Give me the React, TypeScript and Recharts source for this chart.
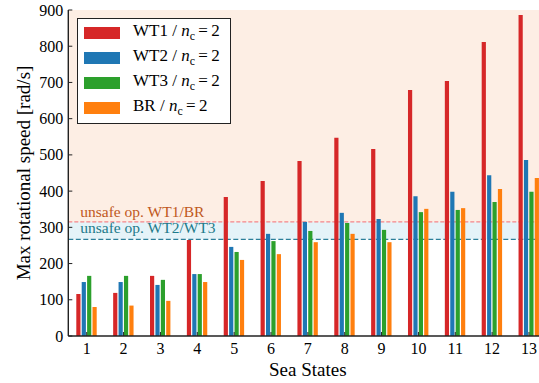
import React from 'react';
import {
  BarChart,
  Bar,
  XAxis,
  YAxis,
  Legend,
  ReferenceArea,
  ReferenceLine,
  Label,
} from 'recharts';

const seaStates = ['1', '2', '3', '4', '5', '6', '7', '8', '9', '10', '11', '12', '13'];
const wt1 = [116, 119, 166, 265, 384, 428, 483, 547, 516, 679, 704, 812, 886];
const wt2 = [149, 149, 141, 171, 246, 282, 315, 340, 323, 386, 398, 444, 486];
const wt3 = [166, 166, 155, 171, 232, 262, 290, 312, 293, 342, 348, 370, 398];
const br = [80, 84, 97, 149, 210, 226, 259, 282, 259, 351, 353, 406, 436];
const yTicks = [0, 100, 200, 300, 400, 500, 600, 700, 800, 900];
const limitWt1Br = 315;
const limitWt2Wt3 = 267;

const series = [
  { key: 'wt1', name: 'WT1', color: '#d62728' },
  { key: 'wt2', name: 'WT2', color: '#1f77b4' },
  { key: 'wt3', name: 'WT3', color: '#2ca02c' },
  { key: 'br', name: 'BR', color: '#ff7f0e' },
];

const data = seaStates.map((s, i) => ({ ss: s, wt1: wt1[i], wt2: wt2[i], wt3: wt3[i], br: br[i] }));

const FONT = '"Liberation Serif", "DejaVu Serif", serif';
const INK = '#222';

const BottomTick = (props: any) => {
  const { x, y, payload } = props;
  return (
    <g>
      <line x1={x} x2={x} y1={y} y2={y - 4} stroke={INK} strokeWidth={1} />
      <text x={x} y={y + 18} textAnchor="middle" fontFamily={FONT} fontSize={16} fill="#000">
        {payload.value}
      </text>
    </g>
  );
};

const TopTick = (props: any) => {
  const { x, y } = props;
  return <line x1={x} x2={x} y1={y} y2={y + 4} stroke={INK} strokeWidth={1} />;
};

const LeftTick = (props: any) => {
  const { x, y, payload } = props;
  return (
    <g>
      <line x1={x} x2={x + 4} y1={y} y2={y} stroke={INK} strokeWidth={1} />
      <text x={x - 5} y={y + 5.5} textAnchor="end" fontFamily={FONT} fontSize={16} fill="#000">
        {payload.value}
      </text>
    </g>
  );
};

const lineLabel = (text: string, color: string, dy: number) => (props: any) => {
  const vb = props.viewBox || {};
  return (
    <text x={vb.x + 12} y={vb.y + dy} fontFamily={FONT} fontSize={15.5} fill={color}>
      {text}
    </text>
  );
};

const LegendBox = () => (
  <div
    style={{
      border: `1px solid ${INK}`,
      background: '#fff',
      width: 154,
      padding: '1px 0 3px 6px',
      boxSizing: 'border-box',
      fontFamily: FONT,
      fontSize: 17,
      color: '#000',
    }}
  >
    {series.map((s) => (
      <div key={s.key} style={{ display: 'flex', alignItems: 'center', height: 25 }}>
        <span style={{ display: 'inline-block', width: 36, height: 12, background: s.color, marginRight: 13 }} />
        <span style={{ whiteSpace: 'nowrap' }}>
          {s.name} / <i>n</i>
          <span style={{ fontSize: '0.7em', verticalAlign: '-0.3em' }}>c</span>
          {'\u2009=\u20092'}
        </span>
      </div>
    ))}
  </div>
);

export default function App() {
  return (
    <div style={{ position: 'absolute', left: 0, top: 0, width: 539, height: 383, overflow: 'hidden', background: '#fff' }}>
      <BarChart
        width={560}
        height={383}
        data={data}
        margin={{ top: 10, right: 12.6, bottom: 0, left: 0 }}
        barSize={4.2}
        barGap={1.2}
      >
        <ReferenceArea y1={limitWt1Br} y2={900} fill="#fdeee4" fillOpacity={1} stroke="none" zIndex={-20} />
        <ReferenceArea y1={limitWt2Wt3} y2={limitWt1Br} fill="#e5f3f8" fillOpacity={1} stroke="none" zIndex={-20} />
        <ReferenceLine
          y={limitWt1Br}
          stroke="#f4868a"
          strokeDasharray="4 2"
          strokeWidth={1.2}
          zIndex={-10}
          label={lineLabel('unsafe op. WT1/BR', '#c0581c', -5.3)}
        />
        <ReferenceLine
          y={limitWt2Wt3}
          stroke="#2c7f9a"
          strokeDasharray="5 2.5"
          strokeWidth={1.2}
          zIndex={-10}
          label={lineLabel('unsafe op. WT2/WT3', '#1d7a8a', -5.8)}
        />
        <XAxis
          dataKey="ss"
          height={47}
          tickSize={0}
          tickMargin={0}
          tickLine={false}
          axisLine={{ stroke: INK, strokeWidth: 1.4 }}
          tick={<BottomTick />}
          interval={0}
        >
          <Label
            content={(p: any) => {
              const vb = p.viewBox || {};
              return (
                <text x={vb.x + vb.width / 2} y={vb.y + 40} textAnchor="middle" fontFamily={FONT} fontSize={19} fill="#000">
                  Sea States
                </text>
              );
            }}
          />
        </XAxis>
        <XAxis
          xAxisId="top"
          dataKey="ss"
          orientation="top"
          height={0}
          tickSize={0}
          tickMargin={0}
          tickLine={false}
          axisLine={{ stroke: INK, strokeWidth: 1.4 }}
          tick={<TopTick />}
          interval={0}
        />
        <YAxis
          width={68.3}
          domain={[0, 900]}
          ticks={yTicks}
          tickSize={0}
          tickMargin={0}
          tickLine={false}
          axisLine={{ stroke: INK, strokeWidth: 1.4 }}
          tick={<LeftTick />}
          interval={0}
        >
          <Label
            content={(p: any) => {
              const vb = p.viewBox || {};
              const cx = vb.x + 30;
              const cy = vb.y + vb.height / 2;
              return (
                <text
                  x={cx}
                  y={cy}
                  textAnchor="middle"
                  transform={`rotate(-90, ${cx}, ${cy})`}
                  fontFamily={FONT}
                  fontSize={19}
                  fill="#000"
                >
                  Max rotational speed [rad/s]
                </text>
              );
            }}
          />
        </YAxis>
        <Legend
          verticalAlign="middle"
          align="center"
          layout="vertical"
          content={<LegendBox />}
          wrapperStyle={{ top: 18, left: 77, width: 154, height: 104 }}
        />
        {series.map((s) => (
          <Bar key={s.key} dataKey={s.key} fill={s.color} isAnimationActive={false} />
        ))}
      </BarChart>
    </div>
  );
}
